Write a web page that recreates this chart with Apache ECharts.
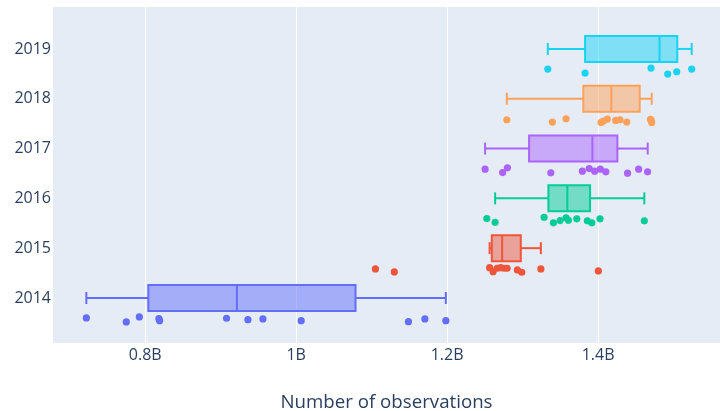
<!DOCTYPE html>
<html><head><meta charset="utf-8">
<script src="https://cdn.jsdelivr.net/npm/echarts@6/dist/echarts.min.js"></script>
<style>html,body{margin:0;padding:0;background:#fff}#c{width:720px;height:411px}</style>
</head><body><div id="c"></div>
<script>
// Categories and tick labels
const years = ['2014', '2015', '2016', '2017', '2018', '2019'];
const xTickValues = [0.8, 1.0, 1.2, 1.4];
const xTickLabels = ['0.8B', '1B', '1.2B', '1.4B'];
const xTitle = 'Number of observations';

// Observations (billions)
const obs2014 = [0.7219, 0.7748, 0.7921, 0.8180, 0.8190, 0.9077, 0.9360, 0.9559, 1.0066, 1.1487, 1.1705, 1.1983];
const obs2015 = [1.1050, 1.1300, 1.2563, 1.2609, 1.2662, 1.2709, 1.2755, 1.2795, 1.2931, 1.2989, 1.3242, 1.4004];
const obs2016 = [1.2526, 1.2636, 1.3285, 1.3408, 1.3497, 1.3576, 1.3607, 1.3718, 1.3858, 1.3917, 1.4026, 1.4613];
const obs2017 = [1.2503, 1.2735, 1.2799, 1.3374, 1.3792, 1.3883, 1.3955, 1.4030, 1.4103, 1.4391, 1.4538, 1.4656];
const obs2018 = [1.2791, 1.3395, 1.3576, 1.4040, 1.4070, 1.4123, 1.4234, 1.4291, 1.4380, 1.4695, 1.4702, 1.4711];
const obs2019 = [1.3334, 1.3828, 1.4702, 1.4923, 1.5042, 1.5241];

// Box statistics [lower whisker, Q1, median, Q3, upper whisker]
const stats2014 = [0.7219, 0.8040, 0.9214, 1.0786, 1.1983];
const stats2015 = [1.2563, 1.2592, 1.2729, 1.2976, 1.3242];
const stats2016 = [1.2636, 1.3342, 1.3593, 1.3894, 1.4613];
const stats2017 = [1.2503, 1.3086, 1.3925, 1.4256, 1.4658];
const stats2018 = [1.2791, 1.3805, 1.4176, 1.4552, 1.4711];
const stats2019 = [1.3334, 1.3828, 1.4815, 1.5050, 1.5241];

// Vertical jitter of the points (px)
const jit2014 = [-2, 2, -3, -1.3, 0.7, -1.7, -0.3, -1, 0.7, 1.7, -1, 0.7];
const jit2015 = [-1.2, 1.8, -2.5, 1.5, -1.9, -2.5, -1.9, -1.9, -0.2, 2.1, -1.2, 0.8];
const jit2016 = [-1.8, 1.9, -3.1, 2.5, 0.2, -2.5, -0.1, -1.5, 0.5, 2.5, -1.5, 0.5];
const jit2017 = [-1.4, 2, -2.7, 2.3, 0.6, -2, 0.6, -1.4, 1.3, 2.6, -1.4, 1.3];
const jit2018 = [-1, 1.3, -2, 1.7, 0.3, -1.7, -0.3, -1, 1.3, -1.5, -1, 1.7];
const jit2019 = [-1.9, 2.1, -2.9, 3.1, 0.8, -1.9];

const allObs = [obs2014, obs2015, obs2016, obs2017, obs2018, obs2019];
const allStats = [stats2014, stats2015, stats2016, stats2017, stats2018, stats2019];
const allJit = [jit2014, jit2015, jit2016, jit2017, jit2018, jit2019];

const lineColors = ['#636efa', '#EF553B', '#00cc96', '#ab63fa', '#FFA15A', '#19d3f3'];
const fillColors = ['rgba(99,110,250,0.5)', 'rgba(239,85,59,0.5)', 'rgba(0,204,150,0.5)',
                    'rgba(171,99,250,0.5)', 'rgba(255,161,90,0.5)', 'rgba(25,211,243,0.5)'];

const BOX_HALF = 13, CAP_HALF = 6, PT_OFFSET = 22, PT_R = 3.6, LW = 2;

function boxRender(k) {
  return function (params, api) {
    const yi = api.value(0);
    const cy = api.coord([api.value(3), yi])[1];
    const x = [1, 2, 3, 4, 5].map(d => api.coord([api.value(d), yi])[0]);
    const st = { stroke: lineColors[k], lineWidth: LW, fill: null };
    return {
      type: 'group',
      children: [
        { type: 'line', shape: { x1: x[0], y1: cy, x2: x[1], y2: cy }, style: st },
        { type: 'line', shape: { x1: x[3], y1: cy, x2: x[4], y2: cy }, style: st },
        { type: 'line', shape: { x1: x[0], y1: cy - CAP_HALF, x2: x[0], y2: cy + CAP_HALF }, style: st },
        { type: 'line', shape: { x1: x[4], y1: cy - CAP_HALF, x2: x[4], y2: cy + CAP_HALF }, style: st },
        { type: 'rect', shape: { x: x[1], y: cy - BOX_HALF, width: x[3] - x[1], height: 2 * BOX_HALF },
          style: { fill: fillColors[k], stroke: lineColors[k], lineWidth: LW } },
        { type: 'line', shape: { x1: x[2], y1: cy - BOX_HALF, x2: x[2], y2: cy + BOX_HALF }, style: st }
      ]
    };
  };
}
function pointRender(k) {
  return function (params, api) {
    const c = api.coord([api.value(0), api.value(1)]);
    return { type: 'circle', shape: { cx: c[0], cy: c[1] + PT_OFFSET + api.value(2), r: PT_R },
             style: { fill: lineColors[k] } };
  };
}

const series = [];
years.forEach((yr, k) => {
  series.push({
    type: 'custom', name: yr, renderItem: boxRender(k), clip: false,
    data: [[k].concat(allStats[k])], encode: { x: [1, 2, 3, 4, 5], y: 0 }
  });
  series.push({
    type: 'custom', name: yr + ' pts', renderItem: pointRender(k), clip: false,
    data: allObs[k].map((v, i) => [v, k, allJit[k][i]]), encode: { x: 0, y: 1 }
  });
});

const chart = echarts.init(document.getElementById('c'), null, { renderer: 'canvas' });
chart.setOption({
  animation: false,
  backgroundColor: '#ffffff',
  textStyle: { fontFamily: '"Open Sans", sans-serif' },
  grid: { left: 53, right: 0, top: 7, bottom: 68, show: true, backgroundColor: '#E5ECF6', borderWidth: 0,
          containLabel: false, outerBoundsMode: 'none' },
  xAxis: {
    type: 'value', min: 0.6777, max: 1.5616,
    axisLine: { show: false },
    axisTick: { show: false, customValues: xTickValues },
    splitLine: { show: true, lineStyle: { color: '#ffffff', width: 1 } },
    axisLabel: {
      customValues: xTickValues, margin: 4,
      color: '#2a3f5f', fontSize: 16, fontFamily: '"Open Sans", sans-serif',
      formatter: v => xTickLabels[xTickValues.findIndex(t => Math.abs(t - v) < 1e-6)]
    },
    name: xTitle, nameLocation: 'middle', nameGap: 50,
    nameTextStyle: { color: '#2a3f5f', fontSize: 18.7, fontFamily: '"Open Sans", sans-serif' }
  },
  yAxis: {
    type: 'value', min: -0.904, max: 5.842,
    axisLine: { show: false },
    axisTick: { show: false, customValues: [0, 1, 2, 3, 4, 5] },
    splitLine: { show: false },
    axisLabel: {
      customValues: [0, 1, 2, 3, 4, 5], margin: 2,
      color: '#2a3f5f', fontSize: 16, fontFamily: '"Open Sans", sans-serif',
      formatter: v => years[Math.round(v)]
    }
  },
  series: series
});
</script></body></html>
